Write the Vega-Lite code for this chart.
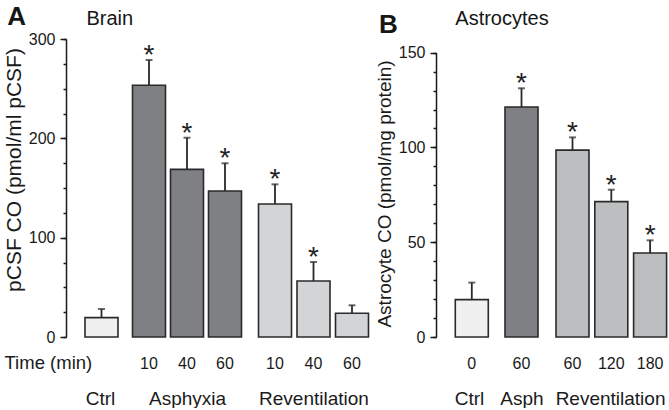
{
  "$schema": "https://vega.github.io/schema/vega-lite/v6.json",
  "padding": {"left": 3, "top": 4, "right": 0, "bottom": 0},
  "background": "white",
  "config": {
    "view": {"stroke": null},
    "font": "Liberation Sans",
    "title": {"font": "Liberation Sans", "color": "#161616", "fontWeight": "normal"},
    "axis": {"domainColor": "#1a1a1a", "domainWidth": 1.5, "tickColor": "#1a1a1a", "tickWidth": 1.5, "labelColor": "#1a1a1a", "titleColor": "#1a1a1a", "labelFont": "Liberation Sans", "titleFont": "Liberation Sans", "titleFontWeight": "normal", "labelFontSize": 16, "grid": false}
  },
  "datasets": {
    "brain": [
      {"group": "Ctrl", "time": "", "co": 19.5, "upper": 28.2, "star": ""},
      {"group": "Asphyxia", "time": "10", "co": 253.4, "upper": 278.9, "star": "*"},
      {"group": "Asphyxia", "time": "40", "co": 168.8, "upper": 200.6, "star": "*"},
      {"group": "Asphyxia", "time": "60", "co": 147, "upper": 174.9, "star": "*"},
      {"group": "Reventilation", "time": "10", "co": 133.9, "upper": 153.7, "star": "*"},
      {"group": "Reventilation", "time": "40", "co": 56.4, "upper": 75.5, "star": "*"},
      {"group": "Reventilation", "time": "60", "co": 23.9, "upper": 31.9, "star": ""}
    ],
    "astro": [
      {"group": "Ctrl", "time": "0", "co": 19.7, "upper": 28.7, "star": ""},
      {"group": "Asph", "time": "60", "co": 121.3, "upper": 131.2, "star": "*"},
      {"group": "Reventilation", "time": "60", "co": 98.6, "upper": 105.3, "star": "*"},
      {"group": "Reventilation", "time": "120", "co": 71.4, "upper": 77.7, "star": "*"},
      {"group": "Reventilation", "time": "180", "co": 44.3, "upper": 51, "star": "*"}
    ]
  },
  "spacing": 3,
  "hconcat": [
    {
      "spacing": 11,
      "bounds": "flush",
      "hconcat": [
        {
          "width": 52.5, "height": 298,
          "data": {"name": "brain"},
          "transform": [{"filter": "datum.group === 'Ctrl'"}],
          "title": {"text": "A", "fontSize": 26, "fontWeight": "bold", "anchor": "start", "frame": "bounds", "baseline": "alphabetic", "offset": -20, "dx": 4},
          "layer": [
            {"mark": {"type": "bar", "fill": "#f0f0f0", "stroke": "#2a2a2a", "strokeWidth": 1.6},
             "encoding": {
               "x": {"field": "time", "type": "nominal", "sort": null, "scale": {"paddingInner": 0, "paddingOuter": 0.2955, "align": 0.974},
                     "axis": {"orient": "bottom", "labels": false, "domain": false, "ticks": false, "tickSize": 0, "title": "Ctrl", "titleX": 34, "titleY": 67, "titleBaseline": "alphabetic", "titleFontSize": 19}},
               "y": {"field": "co", "type": "quantitative", "scale": {"domain": [0, 300], "nice": false},
                     "axis": {"orient": "left", "values": [0, 100, 200, 300], "tickSize": 6, "labelPadding": 5, "title": "pCSF CO (pmol/ml pCSF)", "titleFontSize": 21, "titleX": -45.7, "titleY": 130.5, "titleBaseline": "alphabetic"}}
             }},
            {"mark": {"type": "rule", "color": "#2a2a2a", "strokeWidth": 1.8},
             "encoding": {
               "x": {"field": "time", "type": "nominal", "sort": null,
                     "axis": {"orient": "bottom", "labels": false, "domain": false, "ticks": false, "tickSize": 0, "title": "Time (min)", "titleX": -62, "titleY": 31, "titleAlign": "left", "titleBaseline": "alphabetic", "titleFontSize": 18.5}},
               "y": {"field": "co", "type": "quantitative",
                     "axis": {"orient": "left", "values": [0, 25, 50, 75, 100, 125, 150, 175, 200, 225, 250, 275, 300], "tickSize": 3, "labels": false, "domain": false, "title": null}},
               "y2": {"field": "upper"}
             }},
            {"mark": {"type": "tick", "color": "#2a2a2a", "thickness": 2, "size": 7},
             "encoding": {
               "x": {"field": "time", "type": "nominal", "sort": null, "axis": null},
               "y": {"field": "upper", "type": "quantitative", "axis": null}
             }},
            {"mark": {"type": "text", "fontSize": 28, "baseline": "alphabetic", "dy": 4, "color": "#222222"},
             "encoding": {
               "x": {"field": "time", "type": "nominal", "sort": null, "axis": null},
               "y": {"field": "upper", "type": "quantitative", "axis": null},
               "text": {"field": "star"}
             }}
          ],
          "resolve": {"axis": {"x": "independent", "y": "independent"}}
        },
        {
          "width": 114, "height": 298,
          "data": {"name": "brain"},
          "transform": [{"filter": "datum.group === 'Asphyxia'"}],
          "title": {"text": "Brain", "fontSize": 20, "anchor": "start", "frame": "group", "baseline": "alphabetic", "offset": -6, "dx": -43.5},
          "layer": [
            {"mark": {"type": "bar", "fill": "#7f8084", "stroke": "#2a2a2a", "strokeWidth": 1.6},
             "encoding": {
               "x": {"field": "time", "type": "nominal", "sort": null, "scale": {"paddingInner": 0.1316, "paddingOuter": 0.0658},
                     "axis": {"orient": "bottom", "domain": false, "ticks": false, "tickSize": 0, "labelAngle": 0, "labelPadding": 31, "labelBaseline": "alphabetic", "title": "Asphyxia", "titleY": 67, "titleBaseline": "alphabetic", "titleFontSize": 19}},
               "y": {"field": "co", "type": "quantitative", "scale": {"domain": [0, 300], "nice": false}, "axis": null}
             }},
            {"mark": {"type": "rule", "color": "#2a2a2a", "strokeWidth": 1.8},
             "encoding": {
               "x": {"field": "time", "type": "nominal", "sort": null},
               "y": {"field": "co", "type": "quantitative"},
               "y2": {"field": "upper"}
             }},
            {"mark": {"type": "tick", "color": "#2a2a2a", "thickness": 2, "size": 7},
             "encoding": {
               "x": {"field": "time", "type": "nominal", "sort": null},
               "y": {"field": "upper", "type": "quantitative"}
             }},
            {"mark": {"type": "text", "fontSize": 28, "baseline": "alphabetic", "dy": 4, "color": "#222222"},
             "encoding": {
               "x": {"field": "time", "type": "nominal", "sort": null},
               "y": {"field": "upper", "type": "quantitative"},
               "text": {"field": "star"}
             }}
          ]
        },
        {
          "width": 117, "height": 298,
          "data": {"name": "brain"},
          "transform": [{"filter": "datum.group === 'Reventilation'"}],
          "layer": [
            {"mark": {"type": "bar", "fill": "#d3d4d6", "stroke": "#2a2a2a", "strokeWidth": 1.6},
             "encoding": {
               "x": {"field": "time", "type": "nominal", "sort": null, "scale": {"paddingInner": 0.1429, "paddingOuter": 0.0909},
                     "axis": {"orient": "bottom", "domain": false, "ticks": false, "tickSize": 0, "labelAngle": 0, "labelPadding": 31, "labelBaseline": "alphabetic", "title": "Reventilation", "titleY": 67, "titleBaseline": "alphabetic", "titleFontSize": 19}},
               "y": {"field": "co", "type": "quantitative", "scale": {"domain": [0, 300], "nice": false}, "axis": null}
             }},
            {"mark": {"type": "rule", "color": "#2a2a2a", "strokeWidth": 1.8},
             "encoding": {
               "x": {"field": "time", "type": "nominal", "sort": null},
               "y": {"field": "co", "type": "quantitative"},
               "y2": {"field": "upper"}
             }},
            {"mark": {"type": "tick", "color": "#2a2a2a", "thickness": 2, "size": 7},
             "encoding": {
               "x": {"field": "time", "type": "nominal", "sort": null},
               "y": {"field": "upper", "type": "quantitative"}
             }},
            {"mark": {"type": "text", "fontSize": 28, "baseline": "alphabetic", "dy": 4, "color": "#222222"},
             "encoding": {
               "x": {"field": "time", "type": "nominal", "sort": null},
               "y": {"field": "upper", "type": "quantitative"},
               "text": {"field": "star"}
             }}
          ]
        }
      ]
    },
    {
      "spacing": 11,
      "bounds": "flush",
      "hconcat": [
        {
          "width": 55, "height": 298,
          "data": {"name": "astro"},
          "transform": [{"filter": "datum.group === 'Ctrl'"}],
          "title": {"text": "B", "fontSize": 26, "fontWeight": "bold", "anchor": "start", "frame": "bounds", "baseline": "alphabetic", "offset": -20, "dx": 4},
          "layer": [
            {"mark": {"type": "bar", "fill": "#f0f0f0", "stroke": "#2a2a2a", "strokeWidth": 1.6},
             "encoding": {
               "x": {"field": "time", "type": "nominal", "sort": null, "scale": {"paddingInner": 0, "paddingOuter": 0.3333, "align": 0.877},
                     "axis": {"orient": "bottom", "domain": false, "ticks": false, "tickSize": 0, "labelAngle": 0, "labelPadding": 31, "labelBaseline": "alphabetic", "title": "Ctrl", "titleX": 33, "titleY": 67, "titleBaseline": "alphabetic", "titleFontSize": 19}},
               "y": {"field": "co", "type": "quantitative", "scale": {"domain": [0, 157.2], "nice": false},
                     "axis": {"orient": "left", "values": [0, 50, 100, 150], "tickSize": 6, "labelPadding": 5, "domainDash": [284.4, 100], "title": "Astrocyte CO (pmol/mg protein)", "titleFontSize": 19, "titleX": -46, "titleY": 154.5, "titleBaseline": "alphabetic"}}
             }},
            {"mark": {"type": "rule", "color": "#2a2a2a", "strokeWidth": 1.8},
             "encoding": {
               "x": {"field": "time", "type": "nominal", "sort": null, "axis": null},
               "y": {"field": "co", "type": "quantitative",
                     "axis": {"orient": "left", "values": [0, 10, 20, 30, 40, 50, 60, 70, 80, 90, 100, 110, 120, 130, 140, 150], "tickSize": 3, "labels": false, "domain": false, "title": null}},
               "y2": {"field": "upper"}
             }},
            {"mark": {"type": "tick", "color": "#2a2a2a", "thickness": 2, "size": 7},
             "encoding": {
               "x": {"field": "time", "type": "nominal", "sort": null, "axis": null},
               "y": {"field": "upper", "type": "quantitative", "axis": null}
             }},
            {"mark": {"type": "text", "fontSize": 28, "baseline": "alphabetic", "dy": 4, "color": "#222222"},
             "encoding": {
               "x": {"field": "time", "type": "nominal", "sort": null, "axis": null},
               "y": {"field": "upper", "type": "quantitative", "axis": null},
               "text": {"field": "star"}
             }}
          ],
          "resolve": {"axis": {"x": "independent", "y": "independent"}}
        },
        {
          "width": 39, "height": 298,
          "data": {"name": "astro"},
          "transform": [{"filter": "datum.group === 'Asph'"}],
          "title": {"text": "Astrocytes", "fontSize": 20, "anchor": "start", "frame": "group", "baseline": "alphabetic", "offset": -6, "dx": -46.7},
          "layer": [
            {"mark": {"type": "bar", "fill": "#7f8084", "stroke": "#2a2a2a", "strokeWidth": 1.6},
             "encoding": {
               "x": {"field": "time", "type": "nominal", "sort": null, "scale": {"paddingInner": 0, "paddingOuter": 0.0909},
                     "axis": {"orient": "bottom", "domain": false, "ticks": false, "tickSize": 0, "labelAngle": 0, "labelPadding": 31, "labelBaseline": "alphabetic", "title": "Asph", "titleY": 67, "titleBaseline": "alphabetic", "titleFontSize": 19}},
               "y": {"field": "co", "type": "quantitative", "scale": {"domain": [0, 157.2], "nice": false}, "axis": null}
             }},
            {"mark": {"type": "rule", "color": "#2a2a2a", "strokeWidth": 1.8},
             "encoding": {
               "x": {"field": "time", "type": "nominal", "sort": null},
               "y": {"field": "co", "type": "quantitative"},
               "y2": {"field": "upper"}
             }},
            {"mark": {"type": "tick", "color": "#2a2a2a", "thickness": 2, "size": 7},
             "encoding": {
               "x": {"field": "time", "type": "nominal", "sort": null},
               "y": {"field": "upper", "type": "quantitative"}
             }},
            {"mark": {"type": "text", "fontSize": 28, "baseline": "alphabetic", "dy": 4, "color": "#222222"},
             "encoding": {
               "x": {"field": "time", "type": "nominal", "sort": null},
               "y": {"field": "upper", "type": "quantitative"},
               "text": {"field": "star"}
             }}
          ]
        },
        {
          "width": 116.1, "height": 298,
          "data": {"name": "astro"},
          "transform": [{"filter": "datum.group === 'Reventilation'"}],
          "layer": [
            {"mark": {"type": "bar", "fill": "#bdbebf", "stroke": "#2a2a2a", "strokeWidth": 1.6},
             "encoding": {
               "x": {"field": "time", "type": "nominal", "sort": null, "scale": {"paddingInner": 0.1495, "paddingOuter": 0.0709, "align": 0.727},
                     "axis": {"orient": "bottom", "domain": false, "ticks": false, "tickSize": 0, "labelAngle": 0, "labelPadding": 31, "labelBaseline": "alphabetic", "title": "Reventilation", "titleY": 67, "titleBaseline": "alphabetic", "titleFontSize": 19}},
               "y": {"field": "co", "type": "quantitative", "scale": {"domain": [0, 157.2], "nice": false}, "axis": null}
             }},
            {"mark": {"type": "rule", "color": "#2a2a2a", "strokeWidth": 1.8},
             "encoding": {
               "x": {"field": "time", "type": "nominal", "sort": null},
               "y": {"field": "co", "type": "quantitative"},
               "y2": {"field": "upper"}
             }},
            {"mark": {"type": "tick", "color": "#2a2a2a", "thickness": 2, "size": 7},
             "encoding": {
               "x": {"field": "time", "type": "nominal", "sort": null},
               "y": {"field": "upper", "type": "quantitative"}
             }},
            {"mark": {"type": "text", "fontSize": 28, "baseline": "alphabetic", "dy": 4, "color": "#222222"},
             "encoding": {
               "x": {"field": "time", "type": "nominal", "sort": null},
               "y": {"field": "upper", "type": "quantitative"},
               "text": {"field": "star"}
             }}
          ]
        }
      ]
    }
  ]
}
